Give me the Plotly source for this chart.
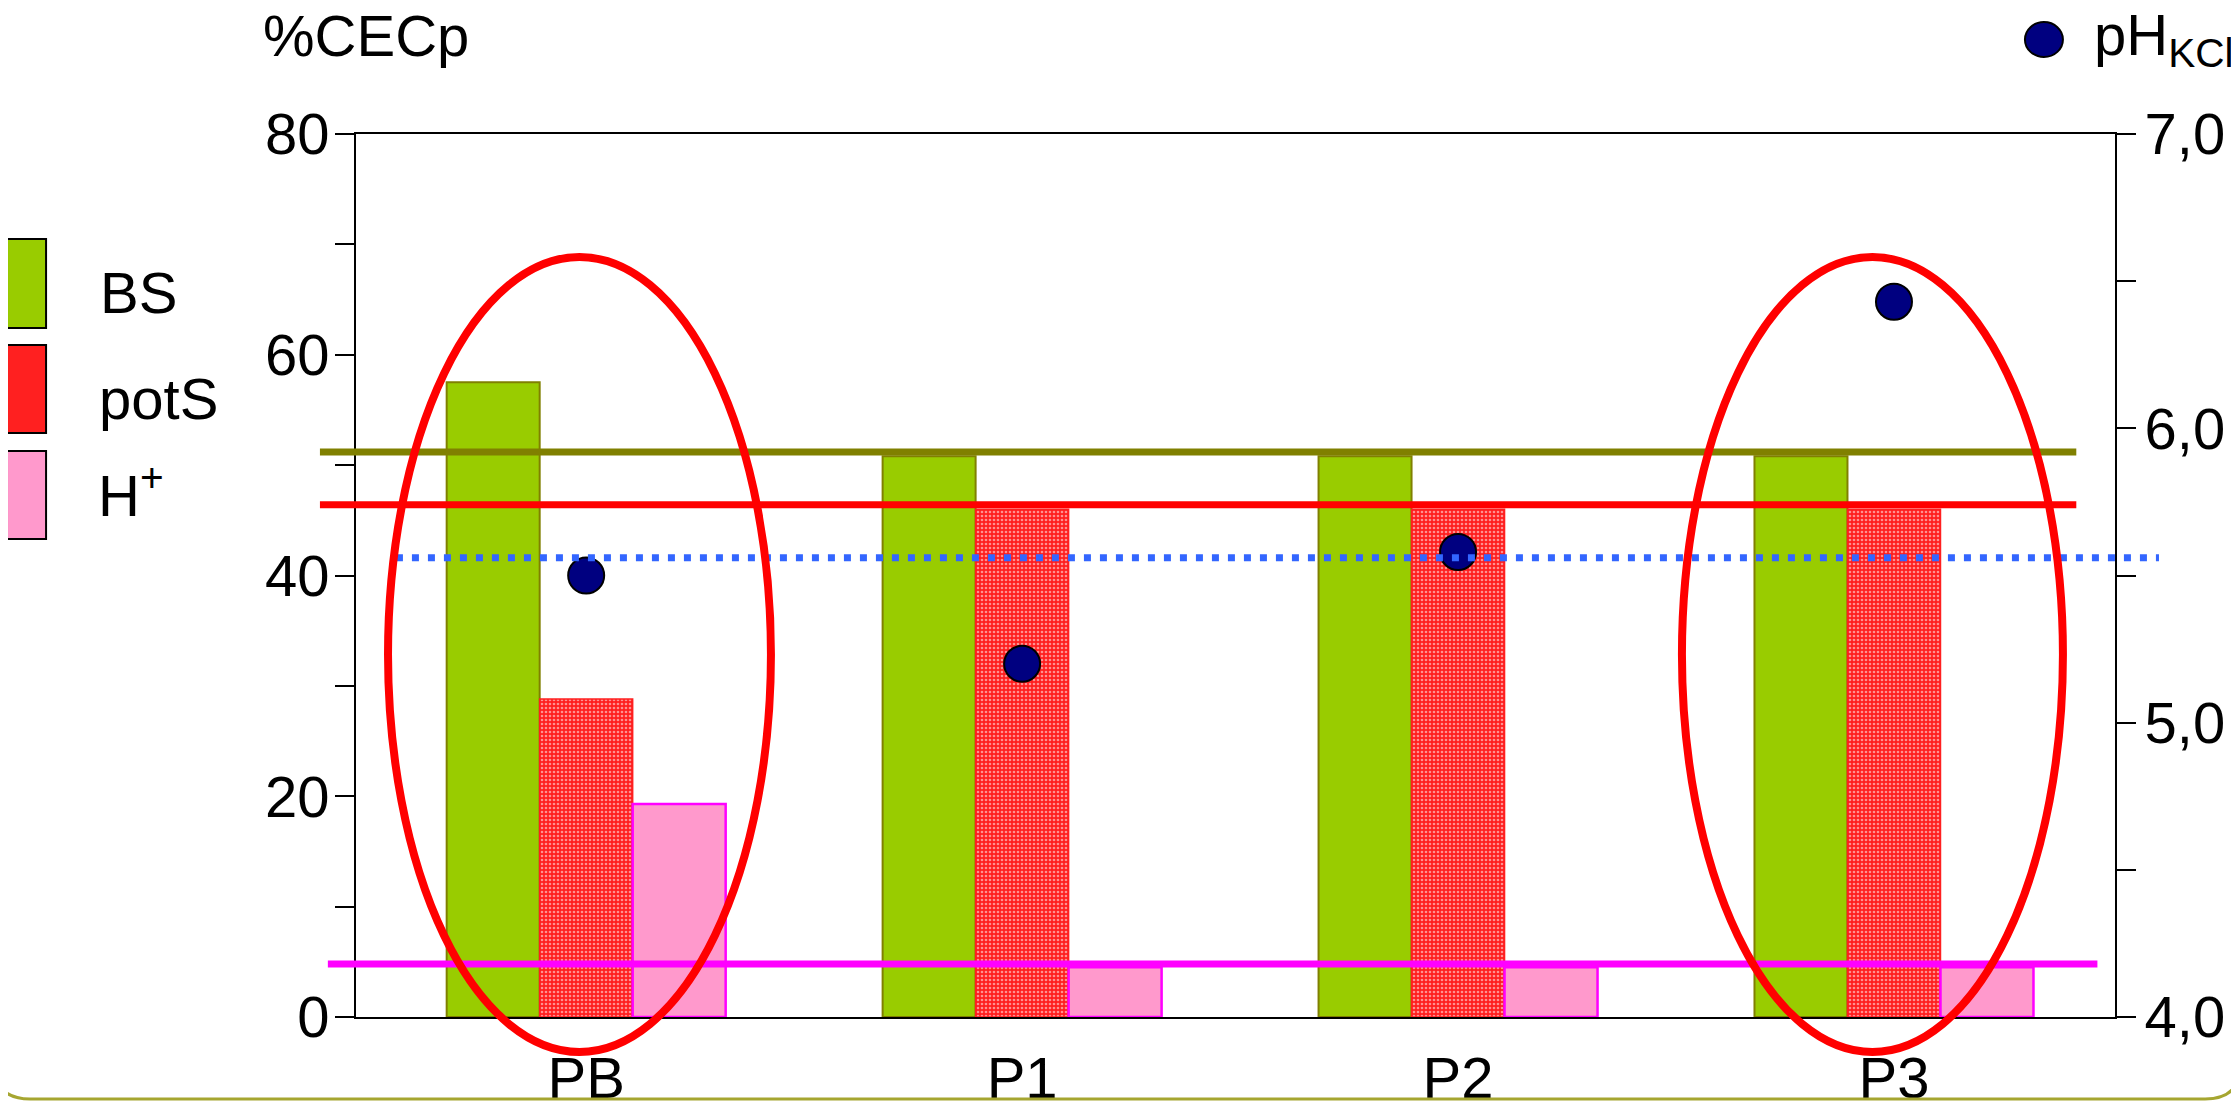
import plotly.graph_objects as go

# ---------------- data ----------------
categories = ["PB", "P1", "P2", "P3"]
bs_values = [57.5, 50.8, 50.8, 50.8]        # %CECp, BS
pots_values = [28.8, 46.0, 46.0, 46.0]      # %CECp, potS
hplus_values = [19.3, 4.5, 4.5, 4.5]        # %CECp, H+
ph_kcl_values = [5.50, 5.20, 5.58, 6.43]    # pH KCl (right axis)

bs_level = 51.2
pots_level = 46.4
hplus_level = 4.8
ph_level = 5.56

left_ticks = [0, 10, 20, 30, 40, 50, 60, 70, 80]
left_labels = ["0", "", "20", "", "40", "", "60", "", "80"]
right_ticks = [4.0, 4.5, 5.0, 5.5, 6.0, 6.5, 7.0]
right_labels = ["4,0", "", "5,0", "", "6,0", "", "7,0"]
divider_ticks = [0.51, 1.57, 2.6]

FONT = "Arial, Liberation Sans, sans-serif"
XR = [-0.528, 3.507]
PAGE_OFFSET = 8  # default body margin of the written html page

fig = go.Figure()

fig.add_trace(go.Bar(
    x=categories, y=bs_values, name="BS",
    marker=dict(color="#99CC00", line=dict(color="#808000", width=2)),
))
fig.add_trace(go.Bar(
    x=categories, y=pots_values, name="potS",
    marker=dict(color="#FF2020", line=dict(color="#FF2020", width=1.5),
                pattern=dict(shape=".", bgcolor="#FF1E1E", fgcolor="#FF9090",
                             size=4, solidity=0.35, fillmode="replace")),
))
fig.add_trace(go.Bar(
    x=categories, y=hplus_values, name="H+",
    marker=dict(color="#FF99CC", line=dict(color="#FF00FF", width=2.5)),
))
fig.add_trace(go.Scatter(
    x=categories, y=ph_kcl_values, name="pH KCl", yaxis="y2", mode="markers",
    marker=dict(size=36, color="#000080", line=dict(color="black", width=2)),
    cliponaxis=False,
))

# reference levels (extend slightly past the axes as in the original)
shapes = []
shapes.append(dict(type="line", xref="paper", yref="y", x0=-0.0205, x1=0.978,
                   y0=bs_level, y1=bs_level, line=dict(color="#808000", width=7), layer="above"))
shapes.append(dict(type="line", xref="paper", yref="y", x0=-0.0205, x1=0.978,
                   y0=pots_level, y1=pots_level, line=dict(color="#FF0000", width=7), layer="above"))
shapes.append(dict(type="line", xref="paper", yref="y2", x0=0.0227, x1=1.025,
                   y0=ph_level, y1=ph_level, line=dict(color="#3366FF", width=7, dash="7px,9px"), layer="above"))
shapes.append(dict(type="line", xref="paper", yref="y", x0=-0.016, x1=0.99,
                   y0=hplus_level, y1=hplus_level, line=dict(color="#FF00FF", width=7), layer="above"))

# highlight ellipses
shapes.append(dict(type="circle", xref="paper", yref="paper", x0=0.0182, x1=0.2359,
                   y0=-0.0396, y1=0.8607, line=dict(color="#FF0000", width=8), layer="above"))
shapes.append(dict(type="circle", xref="paper", yref="paper", x0=0.7538, x1=0.9704,
                   y0=-0.0396, y1=0.8607, line=dict(color="#FF0000", width=8), layer="above"))

# custom legend boxes
legend_boxes = [("#99CC00", 0.7803, 0.8811), ("#FF2020", 0.6614, 0.7610), ("#FF99CC", 0.5413, 0.6410)]
for col, y0, y1 in legend_boxes:
    shapes.append(dict(type="rect", xref="paper", yref="paper", x0=-0.1984, x1=-0.1762,
                       y0=y0, y1=y1, fillcolor=col, line=dict(color="black", width=2)))
# pH legend dot
shapes.append(dict(type="circle", xref="paper", yref="paper", x0=0.9488, x1=0.9704,
                   y0=1.0872, y1=1.1268, fillcolor="#000080", line=dict(color="black", width=2)))

# slide frame (rounded bottom)
shapes.append(dict(type="path", xref="paper", yref="paper",
                   path="M -0.2058 0.1325 L -0.2058 -0.0521 Q -0.2058 -0.0929 -0.1853 -0.0929 "
                        "L 1.0512 -0.0929 Q 1.0716 -0.0929 1.0716 -0.0521 L 1.0716 0.1325",
                   line=dict(color="#A6A630", width=3)))

annotations = [
    dict(text="%CECp", xref="paper", yref="paper", x=-0.054, y=1.111, xanchor="left",
         yanchor="middle", showarrow=False, font=dict(size=58, color="black", family=FONT)),
    dict(text="pH<sub>KCl</sub>", xref="paper", yref="paper", x=0.987, y=1.108, xanchor="left",
         yanchor="middle", showarrow=False, font=dict(size=58, color="black", family=FONT)),
    dict(text="BS", xref="paper", yref="paper", x=-0.1464, y=0.821, xanchor="left",
         yanchor="middle", showarrow=False, font=dict(size=58, color="black", family=FONT)),
    dict(text="potS", xref="paper", yref="paper", x=-0.1475, y=0.701, xanchor="left",
         yanchor="middle", showarrow=False, font=dict(size=58, color="black", family=FONT)),
    dict(text="H<sup>+</sup>", xref="paper", yref="paper", x=-0.1480, y=0.5946, xanchor="left",
         yanchor="middle", showarrow=False, font=dict(size=58, color="black", family=FONT)),
]

axis_common = dict(showgrid=False, zeroline=False, color="black", automargin=False)

fig.update_layout(
    width=2239 - PAGE_OFFSET, height=1103 - PAGE_OFFSET,
    margin=dict(l=356 - PAGE_OFFSET, r=124, t=134 - PAGE_OFFSET, b=86),
    paper_bgcolor="white", plot_bgcolor="white",
    font=dict(family=FONT, size=58, color="black"),
    showlegend=False,
    barmode="group", bargap=0.36, bargroupgap=0,
    xaxis=dict(type="category", range=XR, showline=True, mirror=True, linecolor="black",
               linewidth=2, ticks="", tickfont=dict(size=58), ticklabelstandoff=9, **axis_common),
    xaxis2=dict(overlaying="x", anchor="y", side="bottom", range=XR, tickvals=divider_ticks,
                ticks="outside", ticklen=15, tickwidth=2, tickcolor="black",
                showticklabels=False, showline=False, **axis_common),
    xaxis3=dict(overlaying="x", anchor="y", side="bottom", range=XR, tickvals=divider_ticks,
                ticks="inside", ticklen=15, tickwidth=2, tickcolor="black",
                showticklabels=False, showline=False, **axis_common),
    yaxis=dict(range=[0, 80], tickvals=left_ticks, ticktext=left_labels, ticks="outside",
               ticklen=19, tickwidth=2, tickcolor="black", showline=True, linecolor="black",
               linewidth=2, tickfont=dict(size=58), ticklabelstandoff=-6, **axis_common),
    yaxis3=dict(overlaying="y", side="left", anchor="x", range=[0, 80], tickvals=left_ticks,
                ticks="inside", ticklen=19, tickwidth=2, tickcolor="black",
                showticklabels=False, showline=False, **axis_common),
    yaxis2=dict(overlaying="y", side="right", anchor="x", range=[4, 7], tickvals=right_ticks,
                ticktext=right_labels, ticks="outside", ticklen=19, tickwidth=2,
                tickcolor="black", showline=True, linecolor="black", linewidth=2,
                tickfont=dict(size=58), ticklabelstandoff=-3, **axis_common),
    yaxis4=dict(overlaying="y", side="right", anchor="x", range=[4, 7], tickvals=right_ticks,
                ticks="inside", ticklen=19, tickwidth=2, tickcolor="black",
                showticklabels=False, showline=False, **axis_common),
    shapes=shapes,
    annotations=annotations,
)

fig.write_html("out.html")
